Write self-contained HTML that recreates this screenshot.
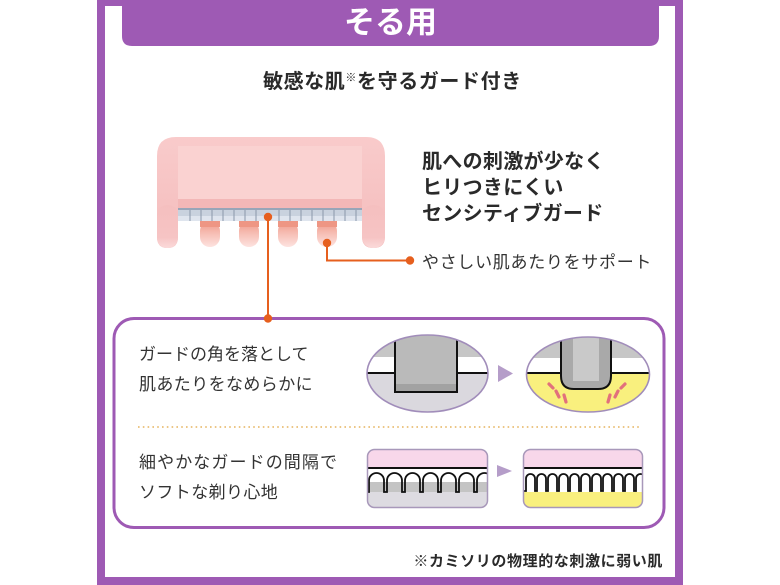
<!DOCTYPE html>
<html><head><meta charset="utf-8">
<style>
html,body{margin:0;padding:0;background:#fff;}
#w{position:relative;width:780px;height:585px;overflow:hidden;background:#fff;font-family:"Liberation Sans","Noto Sans CJK JP",sans-serif;}
svg{position:absolute;left:0;top:0;}
.t{position:absolute;white-space:nowrap;color:#2a2a2a;}
</style></head><body>
<div id="w">
<svg width="780" height="585" viewBox="0 0 780 585">
<defs>
<linearGradient id="bodyG" x1="0" y1="0" x2="0" y2="1">
<stop offset="0" stop-color="#f9cbcb"/><stop offset="1" stop-color="#f4bcbc"/>
</linearGradient>
<linearGradient id="toothG" x1="0" y1="0" x2="0" y2="1">
<stop offset="0" stop-color="#ee9684"/><stop offset="0.45" stop-color="#f6bcb2"/><stop offset="1" stop-color="#fde3e0"/>
</linearGradient>
<linearGradient id="legG" x1="0" y1="0" x2="0" y2="1">
<stop offset="0" stop-color="#f5bfbf"/><stop offset="0.75" stop-color="#f6c4c4"/><stop offset="1" stop-color="#fbdada"/>
</linearGradient>
<clipPath id="ov1"><ellipse cx="427.5" cy="373.5" rx="60.5" ry="38.5"/></clipPath>
<clipPath id="ov2"><ellipse cx="588" cy="374.5" rx="61.5" ry="37.5"/></clipPath>
<clipPath id="cb1"><rect x="367.5" y="449.5" width="120" height="58" rx="7"/></clipPath>
<clipPath id="cb2"><rect x="523.5" y="449.5" width="119" height="58" rx="7"/></clipPath>
</defs>

<!-- frame -->
<rect x="97" y="0" width="8" height="585" fill="#9e5ab4"/>
<rect x="675" y="0" width="8" height="585" fill="#9e5ab4"/>
<rect x="97" y="0" width="586" height="6" fill="#9e5ab4"/>
<rect x="97" y="577" width="586" height="8" fill="#9e5ab4"/>
<path d="M122,0 H659 V36 Q659,46 649,46 H132 Q122,46 122,36 Z" fill="#9e5ab4"/>

<!-- product -->
<path d="M157,156 Q157,137 176,137 L366,137 Q385,137 385,156 L385,237 Q385,248 373.5,248 Q362,248 362,237 L362,221 L178,221 L178,237 Q178,248 167.5,248 Q157,248 157,237 Z" fill="url(#bodyG)"/>
<rect x="157" y="205" width="21" height="43" rx="10" fill="url(#legG)"/>
<rect x="362" y="205" width="23" height="43" rx="11" fill="url(#legG)"/>
<rect x="178" y="146" width="184" height="56" fill="#fad2d1"/>
<rect x="178" y="199" width="184" height="9" fill="#f3b7b7"/>
<!-- blade -->
<rect x="178" y="208" width="184" height="13" fill="#c9d2de"/>
<rect x="178" y="208" width="184" height="2" fill="#98a5b8"/>
<rect x="178" y="216" width="184" height="5" fill="#dfe5ee"/>
<g stroke="#8a98ab" stroke-width="1">
<line x1="190" y1="210" x2="190" y2="221"/><line x1="201" y1="210" x2="201" y2="221"/><line x1="212" y1="210" x2="212" y2="221"/><line x1="223" y1="210" x2="223" y2="221"/><line x1="234" y1="210" x2="234" y2="221"/><line x1="245" y1="210" x2="245" y2="221"/><line x1="256" y1="210" x2="256" y2="221"/><line x1="279" y1="210" x2="279" y2="221"/><line x1="290" y1="210" x2="290" y2="221"/><line x1="301" y1="210" x2="301" y2="221"/><line x1="312" y1="210" x2="312" y2="221"/><line x1="323" y1="210" x2="323" y2="221"/><line x1="334" y1="210" x2="334" y2="221"/><line x1="345" y1="210" x2="345" y2="221"/><line x1="356" y1="210" x2="356" y2="221"/>
</g>
<!-- teeth -->
<rect x="200" y="221" width="20" height="26" rx="10" fill="url(#toothG)"/>
<rect x="239" y="221" width="20" height="26" rx="10" fill="url(#toothG)"/>
<rect x="278" y="221" width="20" height="26" rx="10" fill="url(#toothG)"/>
<rect x="317" y="221" width="20" height="26" rx="10" fill="url(#toothG)"/>
<rect x="200" y="221" width="20" height="6" fill="#ee9684"/>
<rect x="239" y="221" width="20" height="6" fill="#ee9684"/>
<rect x="278" y="221" width="20" height="6" fill="#ee9684"/>
<rect x="317" y="221" width="20" height="6" fill="#ee9684"/>

<!-- box -->
<rect x="114" y="318.5" width="550" height="209" rx="20" fill="#fff" stroke="#9e5ab4" stroke-width="3"/>
<line x1="138" y1="427" x2="641" y2="427" stroke="#e6b45e" stroke-width="1.6" stroke-dasharray="1.6,3.2"/>

<!-- connectors -->
<g stroke="#e65f1e" stroke-width="2" fill="none">
<line x1="268" y1="217" x2="268" y2="318"/>
<polyline points="327,243 327,260.5 410,260.5"/>
</g>
<g fill="#e65f1e">
<circle cx="268" cy="217" r="4.2"/><circle cx="268" cy="318.5" r="4.2"/>
<circle cx="327" cy="243" r="4.2"/><circle cx="410" cy="260.5" r="4.2"/>
</g>

<!-- oval 1 -->
<g clip-path="url(#ov1)">
<rect x="360" y="330" width="140" height="90" fill="#dad8de"/>
<rect x="360" y="330" width="140" height="27" fill="#c6c6c6"/>
<rect x="360" y="357" width="140" height="16" fill="#fff"/>
<line x1="360" y1="373" x2="500" y2="373" stroke="#111" stroke-width="2"/>
<rect x="395" y="330" width="62" height="62" fill="#bababa"/>
<rect x="395" y="384" width="62" height="8" fill="#a2a2a2"/>
<path d="M395,330 L395,392 L457,392 L457,330" fill="none" stroke="#111" stroke-width="2"/>
</g>
<ellipse cx="427.5" cy="373.5" rx="60.5" ry="38.5" fill="none" stroke="#a18dba" stroke-width="1.6"/>
<polygon points="498,365 513,373.5 498,382" fill="#b59dc9"/>

<!-- oval 2 -->
<g clip-path="url(#ov2)">
<rect x="520" y="330" width="140" height="90" fill="#f9f07e"/>
<rect x="520" y="330" width="140" height="28" fill="#c6c6c6"/>
<rect x="520" y="358" width="140" height="15" fill="#fff"/>
<line x1="520" y1="373" x2="660" y2="373" stroke="#111" stroke-width="2"/>
<path d="M561,330 L561,376 Q561,389 574,389 L598,389 Q611,389 611,376 L611,330 Z" fill="#a9a9a9"/>
<rect x="573" y="330" width="26" height="51" fill="#c9c9c9"/>
<path d="M561,330 L561,376 Q561,389 574,389 L598,389 Q611,389 611,376 L611,330" fill="none" stroke="#111" stroke-width="2"/>
</g>
<ellipse cx="588" cy="374.5" rx="61.5" ry="37.5" fill="none" stroke="#a18dba" stroke-width="1.6"/>
<g stroke="#e2707c" stroke-width="3.2" stroke-linecap="round">
<line x1="549" y1="384" x2="553" y2="388"/>
<line x1="556" y1="391" x2="559" y2="397"/>
<line x1="564" y1="395" x2="566" y2="402"/>
<line x1="610" y1="395" x2="608" y2="402"/>
<line x1="618" y1="391" x2="615" y2="397"/>
<line x1="625" y1="384" x2="621" y2="388"/>
</g>

<!-- comb 1 -->
<g clip-path="url(#cb1)">
<rect x="367" y="449" width="121" height="59" fill="#dddbe1"/>
<rect x="367" y="449" width="121" height="19" fill="#f8d7ea"/>
<rect x="367" y="468" width="121" height="14" fill="#fff"/>
<rect x="367" y="482" width="121" height="10" fill="#c4c4c4"/>
<line x1="367" y1="468" x2="488" y2="468" stroke="#111" stroke-width="2"/>
<path d="M364,492 H369 V480.5 A7.5,7.5 0 0 1 384,480.5 V492 H387 V480.5 A7.5,7.5 0 0 1 402,480.5 V492 H405 V480.5 A7.5,7.5 0 0 1 420,480.5 V492 H423 V480.5 A7.5,7.5 0 0 1 438,480.5 V492 H441 V480.5 A7.5,7.5 0 0 1 456,480.5 V492 H459 V480.5 A7.5,7.5 0 0 1 474,480.5 V492 H477 V480.5 A7.5,7.5 0 0 1 492,480.5 V492" fill="none" stroke="#111" stroke-width="1.8"/>
</g>
<rect x="367.5" y="449.5" width="120" height="58" rx="7" fill="none" stroke="#a898ba" stroke-width="1.5"/>
<polygon points="497,465 512,471 497,477" fill="#b59dc9"/>

<!-- comb 2 -->
<g clip-path="url(#cb2)">
<rect x="523" y="449" width="120" height="59" fill="#f9f07e"/>
<rect x="523" y="449" width="120" height="19" fill="#f8d7ea"/>
<rect x="523" y="468" width="120" height="24" fill="#fff"/>
<line x1="523" y1="468" x2="643" y2="468" stroke="#111" stroke-width="2"/>
<path d="M520,491 H526 V478.5 A4.5,4.5 0 0 1 535,478.5 V491 H537 V478.5 A4.5,4.5 0 0 1 546,478.5 V491 H548 V478.5 A4.5,4.5 0 0 1 557,478.5 V491 H559 V478.5 A4.5,4.5 0 0 1 568,478.5 V491 H570 V478.5 A4.5,4.5 0 0 1 579,478.5 V491 H581 V478.5 A4.5,4.5 0 0 1 590,478.5 V491 H592 V478.5 A4.5,4.5 0 0 1 601,478.5 V491 H603 V478.5 A4.5,4.5 0 0 1 612,478.5 V491 H614 V478.5 A4.5,4.5 0 0 1 623,478.5 V491 H625 V478.5 A4.5,4.5 0 0 1 634,478.5 V491 H636 V478.5 A4.5,4.5 0 0 1 645,478.5 V491" fill="none" stroke="#111" stroke-width="1.8"/>
</g>
<rect x="523.5" y="449.5" width="119" height="58" rx="7" fill="none" stroke="#a898ba" stroke-width="1.5"/>
</svg>

<div class="t" style="left:0;width:781px;text-align:center;top:3px;line-height:40px;font-size:31px;font-weight:bold;color:#fff;">そる用</div>
<div class="t" style="left:263px;top:63px;line-height:30px;font-size:20px;font-weight:bold;letter-spacing:0.6px;">敏感な肌<span style="font-size:11px;vertical-align:7px;font-weight:normal;">※</span>を守るガード付き</div>

<div class="t" style="left:422px;top:149px;line-height:26px;font-size:20px;font-weight:bold;letter-spacing:0.3px;">肌への刺激が少なく<br>ヒリつきにくい<br>センシティブガード</div>
<div class="t" style="left:422px;top:251px;line-height:24px;font-size:17px;letter-spacing:0.7px;color:#333;">やさしい肌あたりをサポート</div>

<div class="t" style="left:139px;top:343px;line-height:24px;font-size:17px;color:#333;">ガードの角を落として</div>
<div class="t" style="left:139px;top:373px;line-height:24px;font-size:17px;letter-spacing:0.4px;color:#333;">肌あたりをなめらかに</div>
<div class="t" style="left:139px;top:451px;line-height:24px;font-size:17px;letter-spacing:1.1px;color:#333;">細やかなガードの間隔で</div>
<div class="t" style="left:139px;top:481px;line-height:24px;font-size:17px;letter-spacing:0.4px;color:#333;">ソフトな剃り心地</div>

<div class="t" style="right:117px;top:551px;line-height:22px;font-size:15px;font-weight:bold;letter-spacing:0.6px;text-align:right;">※カミソリの物理的な刺激に弱い肌</div>
</div>
</body></html>
